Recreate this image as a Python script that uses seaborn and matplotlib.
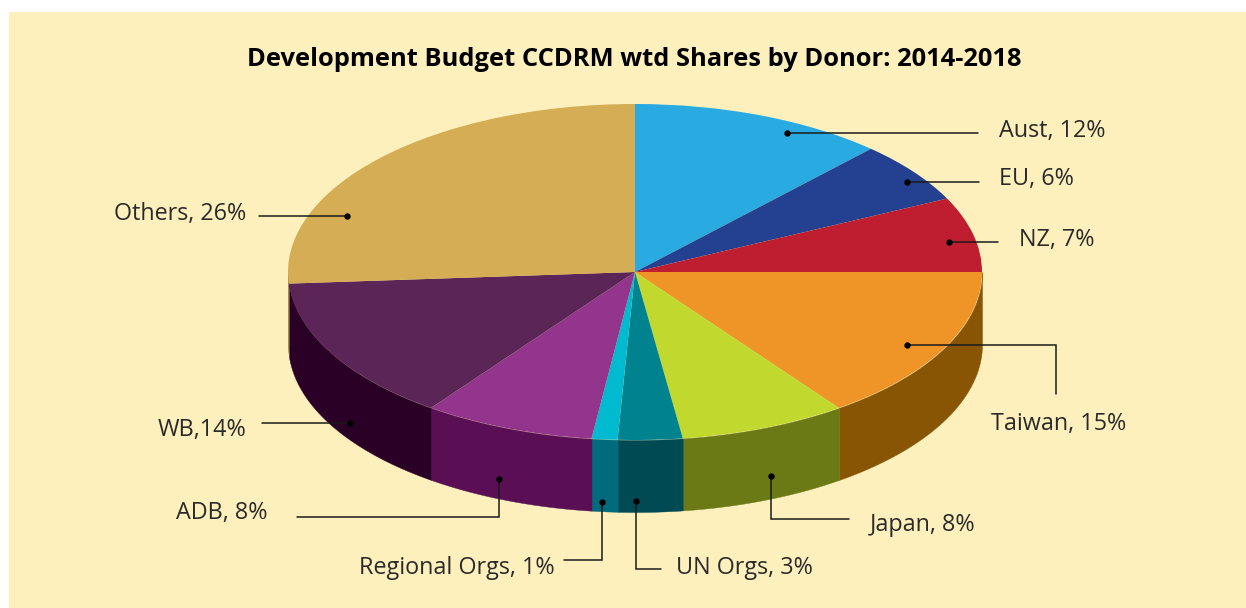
import numpy as np
import seaborn as sns
import matplotlib.pyplot as plt
from matplotlib.patches import Rectangle

# donors, clockwise from the top of the pie
donors = ["Aust", "EU", "NZ", "Taiwan", "Japan", "UN Orgs", "Regional Orgs", "ADB", "WB", "Others"]
shares = [11.9, 5.9, 7.2, 15.0, 7.8, 3.0, 1.2, 8.0, 13.9, 26.1]
labels = ["Aust, 12%", "EU, 6%", "NZ, 7%", "Taiwan, 15%", "Japan, 8%", "UN Orgs, 3%",
          "Regional Orgs, 1%", "ADB, 8%", "WB,14%", "Others, 26%"]
top_colors = ["#29abe2", "#234091", "#be1e2f", "#ef9427", "#c1d82f", "#00838f",
              "#00bbd0", "#93358d", "#5c2557", "#d5ad54"]
side_colors = ["#1a6f94", "#16285c", "#7a131e", "#885505", "#6b7a14", "#004a54",
               "#006b7d", "#5a0f54", "#2a0026", "#7d6530"]
title = "Development Budget CCDRM wtd Shares by Donor: 2014-2018"

W, H = 1246, 608
cx, cy, rx, ry, depth = 635, 272, 347, 168, 72

sns.set_theme(style="white")
plt.rcParams["font.family"] = ["Open Sans", "DejaVu Sans"]

fig = plt.figure(figsize=(W / 100, H / 100), dpi=100, facecolor="white")
fig.add_artist(Rectangle((9 / W, 0), 1 - 9 / W, 1 - 12 / H, transform=fig.transFigure,
                         facecolor="#fdf0bd", edgecolor="none", zorder=-1))

# pie axes: one data unit is one radius, squashed so the circle turns into the ellipse
ax = fig.add_axes([0, 0, 1, 1])
ax.patch.set_alpha(0)
ax.pie(shares, colors=sns.color_palette(top_colors), startangle=90, counterclock=False,
       radius=1, wedgeprops={"linewidth": 0, "zorder": 3})
ax.set_aspect("auto")
ax.set_xlim(-cx / rx, (W - cx) / rx)
ax.set_ylim((cy - H) / ry, cy / ry)
ax.axis("off")

# side wall of each slice where it faces the viewer
ends = np.cumsum(shares) / np.sum(shares) * 360
starts = np.r_[0, ends[:-1]]
d = depth / ry
for a0, a1, col in zip(starts, ends, sns.color_palette(side_colors)):
    # clockwise angle from top, only the lower half (90..270) is visible
    lo, hi = max(a0, 90), min(a1, 270)
    if hi <= lo:
        continue
    t = np.radians(90 - np.linspace(lo, hi, 80))
    x, y = np.cos(t), np.sin(t)
    ax.fill_between(x, y, y - d, color=col, linewidth=0.3, zorder=2)

# leader lines and dots are placed in picture pixels
ov = fig.add_axes([0, 0, 1, 1])
ov.patch.set_alpha(0)
ov.set_xlim(0, W)
ov.set_ylim(H, 0)
ov.axis("off")

leaders = [
    [(787, 133), (978, 133)],
    [(907, 182), (979, 182)],
    [(949, 242), (998, 242)],
    [(907, 345), (1056, 345), (1056, 394)],
    [(771, 476), (771, 519), (849, 519)],
    [(636, 501), (636, 569), (661, 569)],
    [(602, 502), (602, 560), (564, 560)],
    [(499, 479), (499, 517), (297, 517)],
    [(350, 423), (262, 423)],
    [(347, 216), (259, 216)],
]
label_pos = [(999, 131), (999, 179), (1019, 240), (991, 424), (870, 525),
             (676, 568), (359, 568), (176, 513), (158, 430), (114, 214)]

for pts, txt, (lx, ly) in zip(leaders, labels, label_pos):
    xs, ys = zip(*pts)
    ov.plot(xs, ys, color="#1a1a1a", lw=1.1, solid_joinstyle="miter")
    ov.plot(xs[0], ys[0], "o", color="black", ms=4.6, mew=0)
    ov.text(lx, ly, txt, fontsize=16.8, color="#2a2a2a", ha="left", va="center")

ov.text(247, 59, title, fontsize=18.35, fontweight="bold", color="black", ha="left", va="center")

fig.savefig("out.png", dpi=100)
